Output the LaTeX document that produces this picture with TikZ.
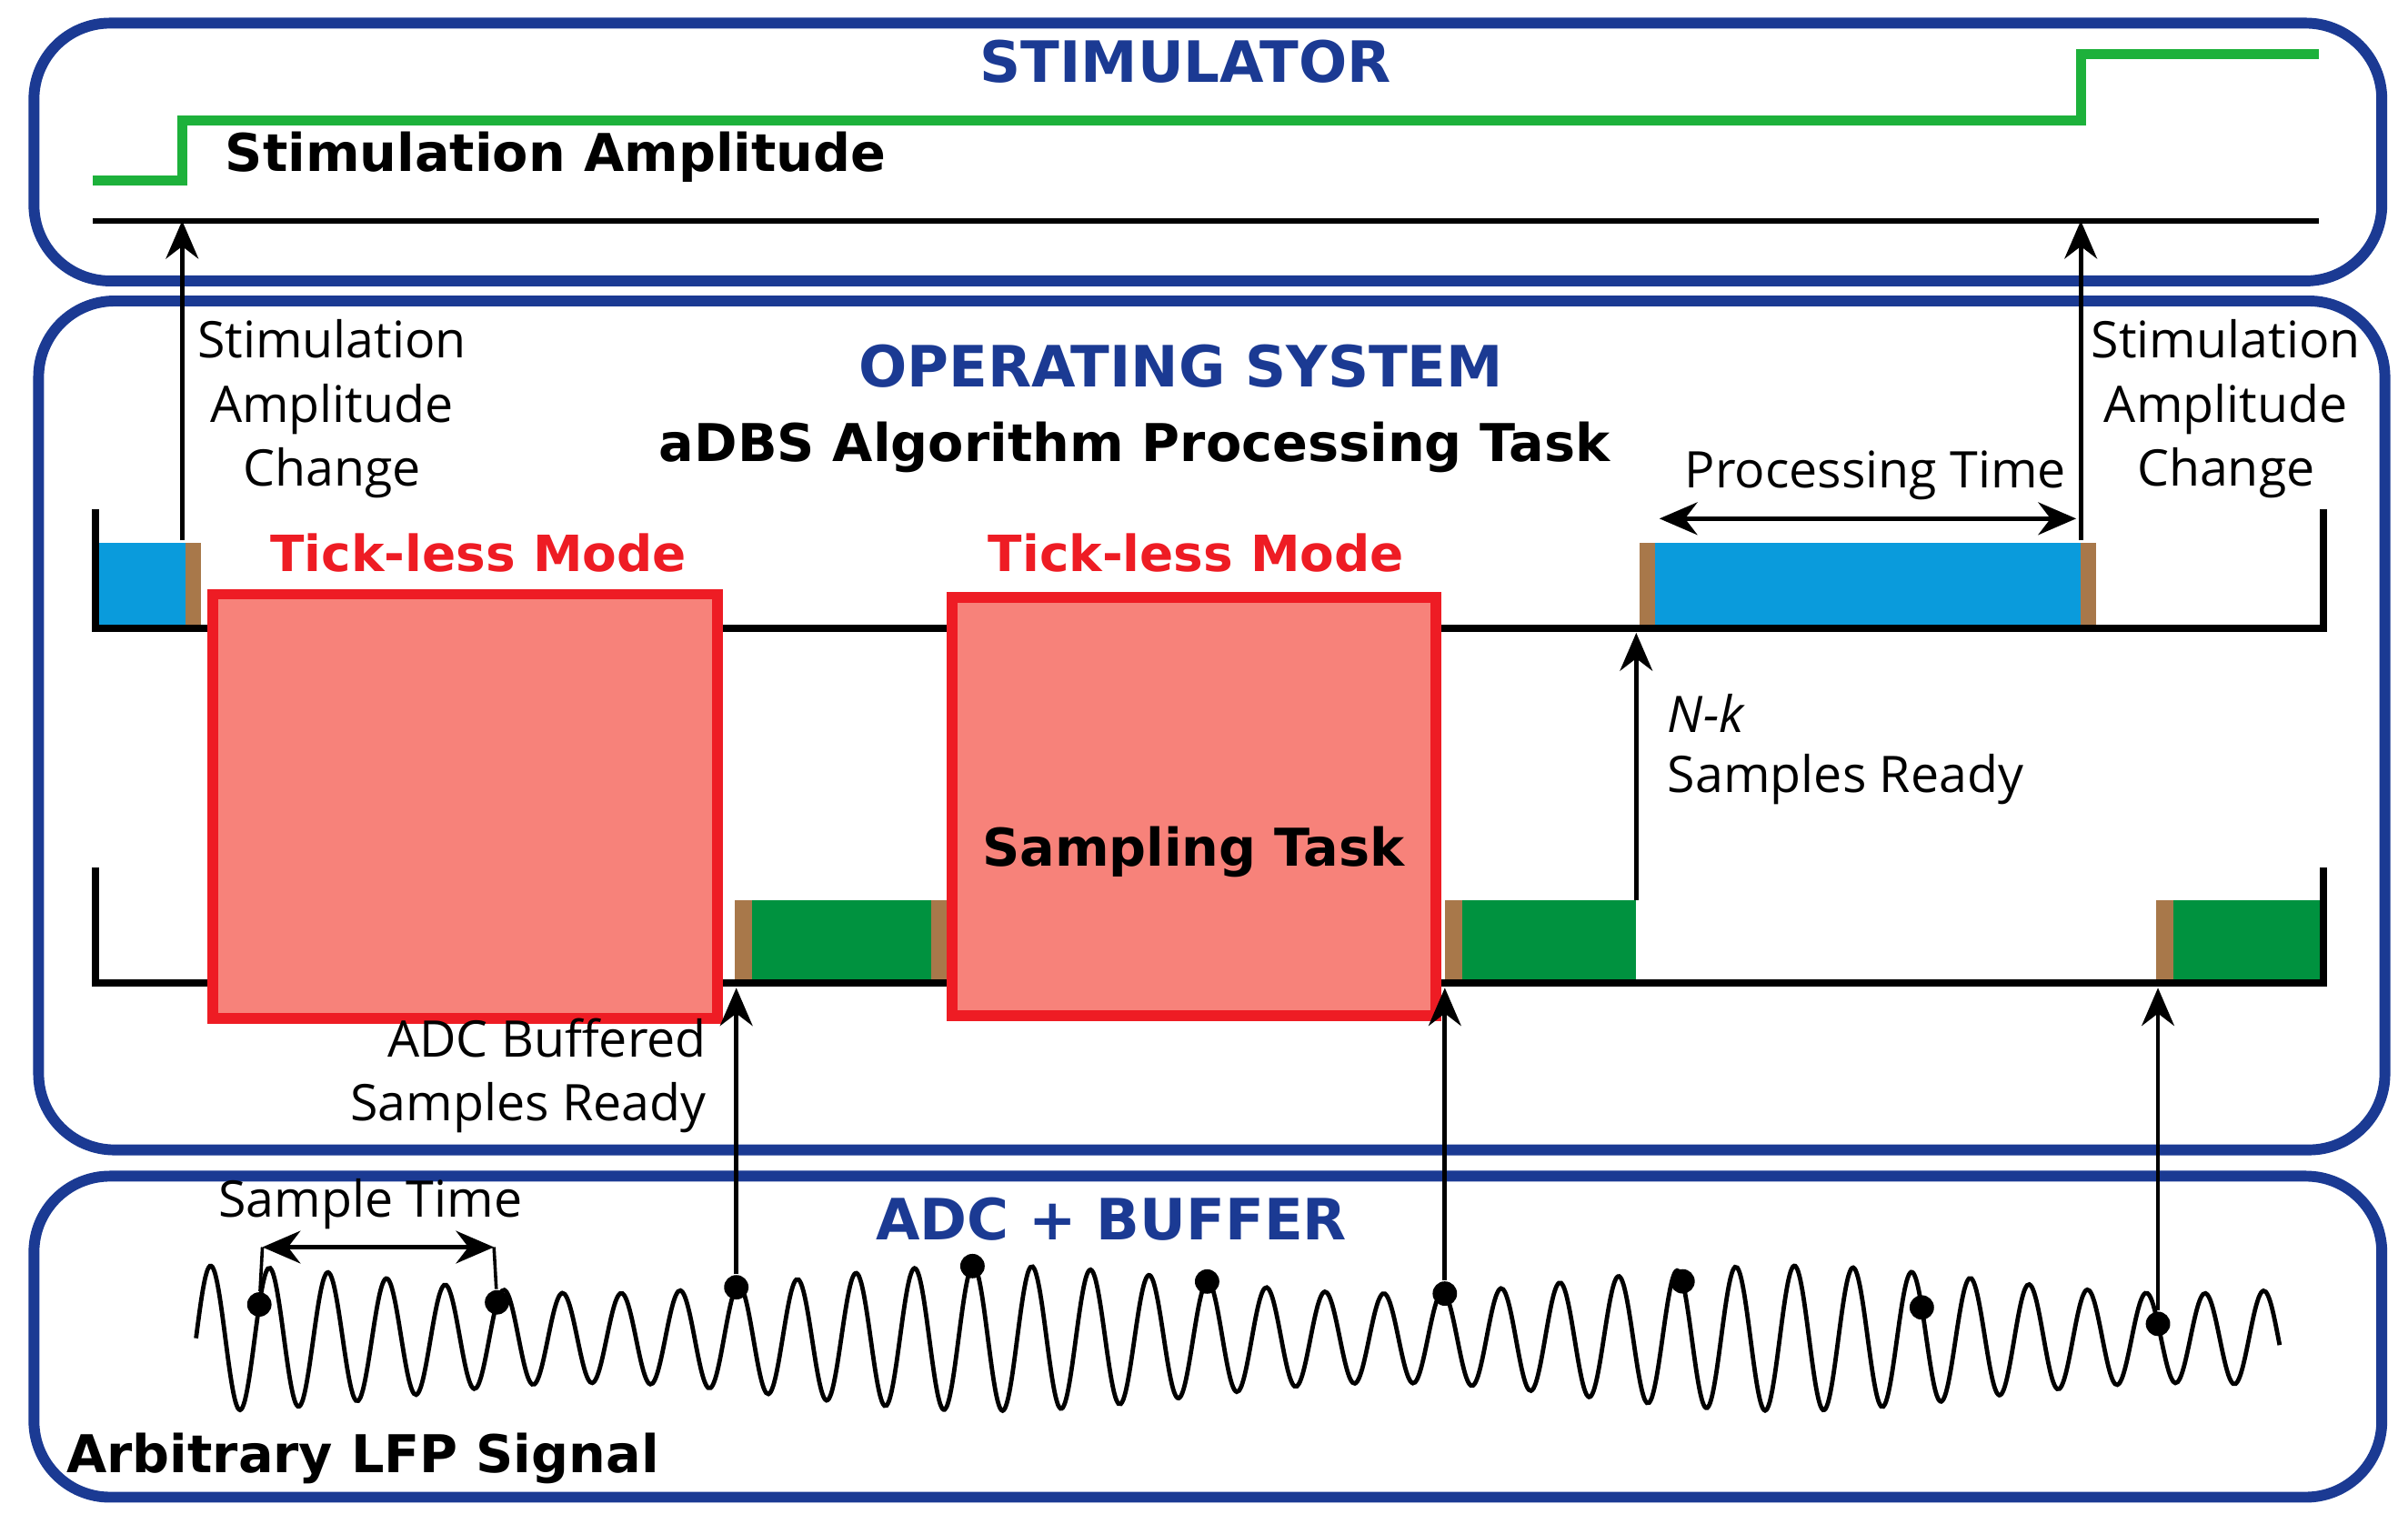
\documentclass[tikz,border=0pt]{standalone}
\usepackage{fontspec}
\setmainfont{Open Sans}
\newfontfamily\headfont{DejaVu Sans}
\usetikzlibrary{positioning,calc,arrows.meta}

\definecolor{navy}{HTML}{1B3A93}
\definecolor{taskblue}{HTML}{0A9BDC}
\definecolor{taskgreen}{HTML}{00923F}
\definecolor{edgebrown}{HTML}{A8784A}
\definecolor{ticksalmon}{HTML}{F7827A}
\definecolor{sigred}{HTML}{EE1C24}
\definecolor{stimgreen}{HTML}{1DB13B}

\tikzset{
  panel/.style={draw=navy, line width=2pt, rounded corners=14pt},
  title/.style={text=navy, font=\headfont\bfseries\fontsize{10.5}{12}\selectfont},
  heading/.style={font=\headfont\bfseries\fontsize{9.6}{11}\selectfont},
  lbl/.style={font=\fontsize{9.3}{11.8}\selectfont, align=center},
  tick/.style={text=sigred, font=\headfont\bfseries\fontsize{9.2}{11}\selectfont},
  axis/.style={line width=1.4pt},
  up/.style={-{Stealth[length=7pt,width=6pt]}, line width=0.8pt},
  dot/.style={circle, fill=black, inner sep=0pt, minimum size=4.5pt},
  declare function={wave(\x)=-8.67+(0.38+0.09*sin(\x*70))*sin(360*(\x-1.27)/0.38);}
}

\begin{document}
\begin{tikzpicture}
  \useasboundingbox (0,0) rectangle (15.6,-9.868);

  % panels
  \draw[panel] (0.22,-0.15) rectangle (15.43,-1.82);
  \draw[panel] (0.25,-1.95) rectangle (15.45,-7.45);
  \draw[panel] (0.22,-7.62) rectangle (15.43,-9.70);
  \node[title] (stim) at (7.68,-0.40) {STIMULATOR};
  \node[title] (os) at (7.65,-2.37) {OPERATING SYSTEM};
  \node[title] (adc) at (7.20,-7.90) {ADC + BUFFER};

  % stimulator
  \draw[stimgreen, line width=1.8pt] (0.60,-1.17) -- (1.18,-1.17) -- (1.18,-0.78)
    -- (13.48,-0.78) -- (13.48,-0.35) -- (15.02,-0.35);
  \node[heading] (amp) at (3.60,-1.02) {Stimulation Amplitude};
  \draw[line width=1pt] (0.60,-1.43) coordinate (s0) -- (15.02,-1.43) coordinate (s1);
  \coordinate (hitL) at (1.18,-1.43);
  \coordinate (hitR) at (13.48,-1.43);

  % processing task
  \node[heading] (proc) at (7.35,-2.90) {aDBS Algorithm Processing Task};
  \fill[taskblue] (0.62,-3.52) rectangle (1.20,-4.07);
  \fill[edgebrown] (1.20,-3.52) rectangle (1.30,-4.07);
  \fill[edgebrown] (10.62,-3.52) rectangle (10.72,-4.07);
  \fill[taskblue] (10.72,-3.52) rectangle (13.48,-4.07);
  \fill[edgebrown] (13.48,-3.52) rectangle (13.58,-4.07);
  \draw[axis] (0.62,-3.30) -- (0.62,-4.07) -- (15.05,-4.07) -- (15.05,-3.30);

  \draw[up] (1.18,-3.50) -- (hitL);
  \draw[up] (13.48,-3.50) -- (hitR);
  \node[lbl] (chL) at (2.15,-2.65) {Stimulation\\Amplitude\\Change};
  \node[lbl] (chR) at (14.42,-2.65) {Stimulation\\Amplitude\\Change};
  \coordinate (pa) at (10.75,-3.36);
  \coordinate (pb) at (13.45,-3.36);
  \draw[{Stealth[length=7pt,width=6pt]}-{Stealth[length=7pt,width=6pt]}, line width=0.8pt] (pa) -- (pb);
  \node[lbl] (pt) at (12.15,-3.08) {Processing Time};

  % sampling task
  \fill[edgebrown] (4.76,-5.83) rectangle (4.87,-6.37);
  \fill[taskgreen] (4.87,-5.83) rectangle (6.03,-6.37);
  \fill[edgebrown] (6.03,-5.83) rectangle (6.13,-6.37);
  \fill[edgebrown] (9.36,-5.83) rectangle (9.47,-6.37);
  \fill[taskgreen] (9.47,-5.83) rectangle (10.60,-6.37);
  \fill[edgebrown] (13.97,-5.83) rectangle (14.08,-6.37);
  \fill[taskgreen] (14.08,-5.83) rectangle (15.03,-6.37);
  \draw[axis] (0.62,-5.62) -- (0.62,-6.37) -- (15.05,-6.37) -- (15.05,-5.62);

  % tick-less windows
  \draw[sigred, line width=2pt, fill=ticksalmon] (1.38,-3.85) rectangle (4.65,-6.60);
  \draw[sigred, line width=2pt, fill=ticksalmon] (6.17,-3.87) rectangle (9.30,-6.58);
  \node[tick] (tl1) at (3.10,-3.58) {Tick-less Mode};
  \node[tick] (tl2) at (7.75,-3.58) {Tick-less Mode};
  \node[heading] (samp) at (7.73,-5.52) {Sampling Task};

  \coordinate (rdy) at (10.60,-4.10);
  \draw[up] (10.60,-5.83) -- (rdy);
  \node[lbl, anchor=west] (nk) at (10.68,-4.62) {\itshape N-k};
  \node[lbl, anchor=west] (nkr) at (10.68,-5.05) {Samples Ready};
  \node[lbl, align=right, anchor=east] (buf) at (4.70,-6.97) {ADC Buffered\\Samples Ready};

  % LFP signal
  \draw[line width=0.8pt] plot[domain=1.27:14.77, samples=900, smooth] (\x,{wave(\x)});
  \foreach \i/\sx in {1/1.68,2/3.22,3/4.77,4/6.30,5/7.82,6/9.36,7/10.90,8/12.45,9/13.98}
    \node[dot] (d\i) at (\sx,{wave(\sx)}) {};
  \draw[up] (d3) -- (4.77,-6.40);
  \draw[up] (d6) -- (9.36,-6.40);
  \draw[up] (d9) -- (13.98,-6.40);
  \coordinate (ta) at (1.70,-8.08);
  \coordinate (tb) at (3.20,-8.08);
  \draw[{Stealth[length=7pt,width=6pt]}-{Stealth[length=7pt,width=6pt]}, line width=0.8pt] (ta) -- (tb);
  \draw[line width=0.6pt] (d1) -- (ta) (d2) -- (tb);
  \node[lbl] (st) at (2.40,-7.80) {Sample Time};
  \node[heading] (lfp) at (2.35,-9.45) {Arbitrary LFP Signal};
\end{tikzpicture}
\end{document}
